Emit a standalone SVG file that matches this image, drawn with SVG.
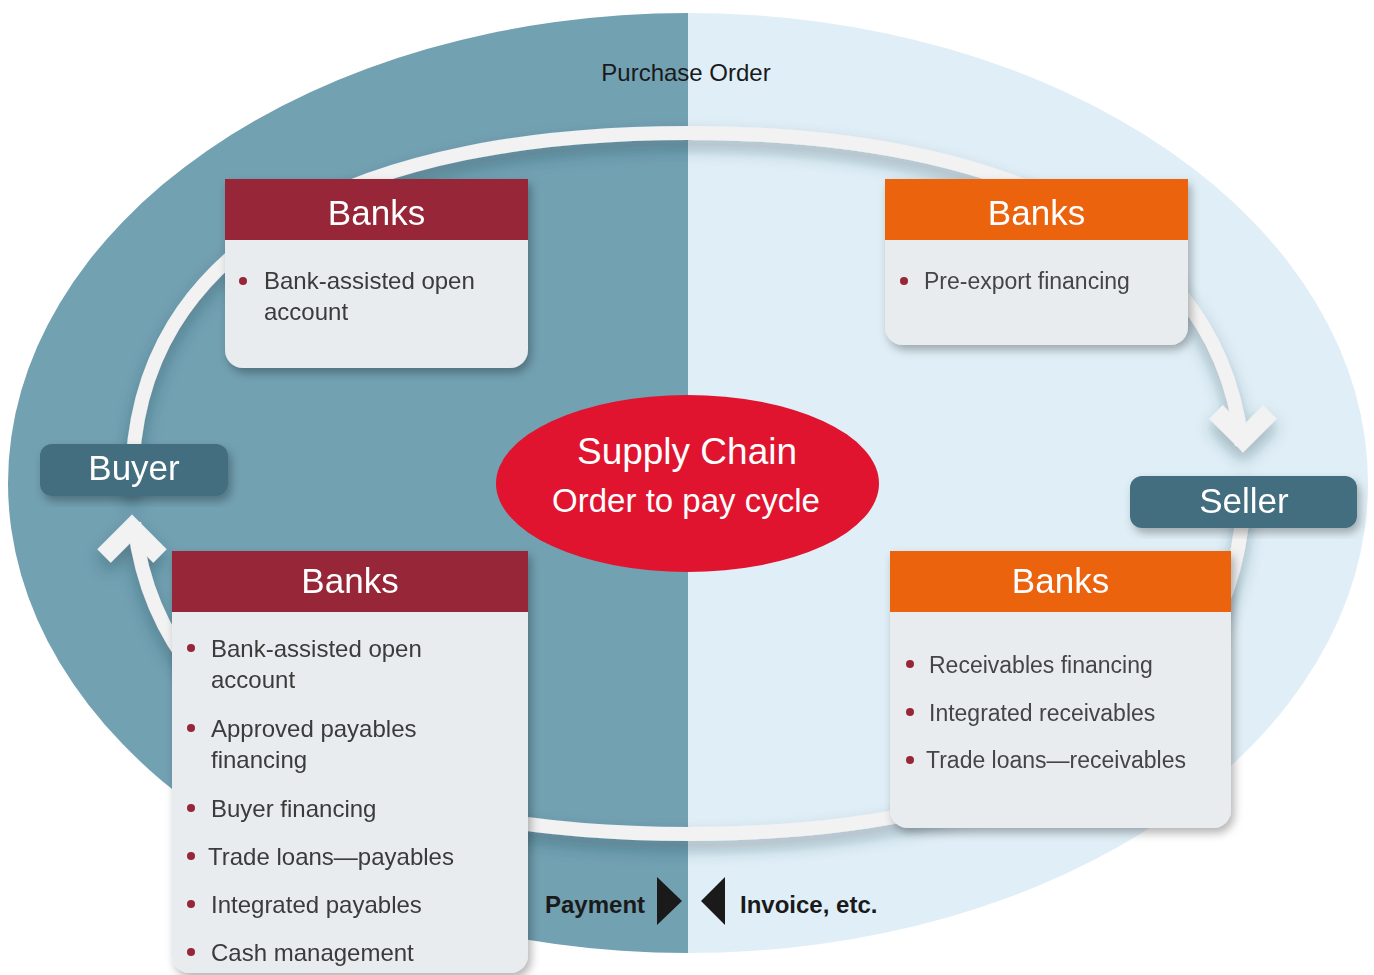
<svg xmlns="http://www.w3.org/2000/svg" width="1374" height="975" viewBox="0 0 1374 975">
<defs>
<style>
.t{font-family:"Liberation Sans",Arial,Helvetica,sans-serif}
.hd{font-size:35px;fill:#ffffff;text-anchor:middle}
.it{font-size:24px;fill:#3a3a3a}
.itr{font-size:23px;fill:#444444}
.dot{fill:#962537}
.body{fill:#e8ecef}
.red{fill:#962537}
.org{fill:#ec6311}
.party{fill:#436e7f}
.ptxt{font-size:35px;fill:#ffffff;text-anchor:middle}
.ring{fill:none;stroke:#f2f2f2;stroke-width:14}
.ah{fill:none;stroke:#f2f2f2;stroke-width:19;stroke-linejoin:miter;stroke-miterlimit:10}
.lbl{font-size:24px;fill:#1a1a1a}
.tri{fill:#1a1a1a}
</style>
<filter id="sh" x="-20%" y="-20%" width="140%" height="140%">
<feDropShadow dx="3" dy="5" stdDeviation="5" flood-color="#000" flood-opacity="0.3"/>
</filter>
<filter id="rsh" x="-10%" y="-10%" width="120%" height="130%">
<feDropShadow dx="0" dy="9" stdDeviation="8" flood-color="#1d3a48" flood-opacity="0.35"/>
</filter>
<mask id="gap">
<rect x="0" y="0" width="1374" height="975" fill="#fff"/>
<rect x="95" y="496" width="80" height="26" fill="#000"/>
<rect x="1205" y="446" width="80" height="30" fill="#000"/>
</mask>
<clipPath id="lh"><rect x="0" y="0" width="688" height="975"/></clipPath>
<clipPath id="rh"><rect x="688" y="0" width="686" height="975"/></clipPath>
</defs>

<g id="background">
<ellipse cx="688" cy="483" rx="680" ry="470" fill="#72a1b2" clip-path="url(#lh)"/>
<ellipse cx="688" cy="483" rx="680" ry="470" fill="#e0eff7" clip-path="url(#rh)"/>
</g>

<g id="connectors">
<g filter="url(#rsh)">
<path class="ring" mask="url(#gap)" d="M688,133 C365.5,133 132,238.1 132,483.5 C132,728.9 365.5,834 688,834 C1010.5,834 1244,728.9 1244,483.5 C1244,238.1 1010.5,133 688,133 Z"/>
<polyline class="ah" points="1216,412 1243,439 1270,412"/>
<polyline class="ah" points="104,556 132,528 160,556"/>
</g>
<polygon class="tri" points="657,877 657,925 682,901"/>
<polygon class="tri" points="725,877 725,925 701,901"/>
</g>

<g id="label-purchase-order">
<text class="t lbl" x="686" y="81" text-anchor="middle">Purchase Order</text>
</g>
<g id="label-payment">
<text class="t lbl" x="545" y="913" font-weight="bold">Payment</text>
</g>
<g id="label-invoice">
<text class="t lbl" x="740" y="913" font-weight="bold" font-size="23">Invoice, etc.</text>
</g>

<g id="supply-chain">
<ellipse cx="687.5" cy="483.5" rx="191.5" ry="88.5" fill="#e0142f"/>
<text class="t" x="687" y="464" font-size="37" fill="#fff" text-anchor="middle">Supply Chain</text>
<text class="t" x="686" y="512" font-size="33" fill="#fff" text-anchor="middle">Order to pay cycle</text>
</g>

<g id="banks-buyer-top" filter="url(#sh)">
<path class="body" d="M225,179 H528 V350 A18,18 0 0 1 510,368 H243 A18,18 0 0 1 225,350 Z"/>
<rect class="red" x="225" y="179" width="303" height="61"/>
<text class="t hd" x="376.5" y="225">Banks</text>
<circle class="dot" cx="243" cy="281" r="4"/>
<text class="t it" x="264" y="289">Bank-assisted open</text>
<text class="t it" x="264" y="320">account</text>
</g>

<g id="banks-seller-top" filter="url(#sh)">
<path class="body" d="M885,179 H1188 V327 A18,18 0 0 1 1170,345 H903 A18,18 0 0 1 885,327 Z"/>
<rect class="org" x="885" y="179" width="303" height="61"/>
<text class="t hd" x="1036.5" y="225">Banks</text>
<circle class="dot" cx="904" cy="281" r="4"/>
<text class="t itr" x="924" y="289">Pre-export financing</text>
</g>

<g id="banks-buyer-bottom" filter="url(#sh)">
<path class="body" d="M172,551 H528 V955 A18,18 0 0 1 510,973 H190 A18,18 0 0 1 172,955 Z"/>
<rect class="red" x="172" y="551" width="356" height="61"/>
<text class="t hd" x="350" y="593">Banks</text>
<circle class="dot" cx="191" cy="648" r="4"/>
<text class="t it" x="211" y="657">Bank-assisted open</text>
<text class="t it" x="211" y="688">account</text>
<circle class="dot" cx="191" cy="728" r="4"/>
<text class="t it" x="211" y="737">Approved payables</text>
<text class="t it" x="211" y="768">financing</text>
<circle class="dot" cx="191" cy="808" r="4"/>
<text class="t it" x="211" y="817">Buyer financing</text>
<circle class="dot" cx="191" cy="856" r="4"/>
<text class="t it" x="208" y="865">Trade loans—payables</text>
<circle class="dot" cx="191" cy="904" r="4"/>
<text class="t it" x="211" y="913">Integrated payables</text>
<circle class="dot" cx="191" cy="952" r="4"/>
<text class="t it" x="211" y="961">Cash management</text>
</g>

<g id="banks-seller-bottom" filter="url(#sh)">
<path class="body" d="M890,551 H1231 V810 A18,18 0 0 1 1213,828 H908 A18,18 0 0 1 890,810 Z"/>
<rect class="org" x="890" y="551" width="341" height="61"/>
<text class="t hd" x="1060.5" y="593">Banks</text>
<circle class="dot" cx="910" cy="664" r="4"/>
<text class="t itr" x="929" y="673">Receivables financing</text>
<circle class="dot" cx="910" cy="712" r="4"/>
<text class="t itr" x="929" y="721">Integrated receivables</text>
<circle class="dot" cx="910" cy="760" r="4"/>
<text class="t itr" x="926" y="768">Trade loans—receivables</text>
</g>

<g id="buyer" filter="url(#sh)">
<rect class="party" x="40" y="444" width="188" height="52" rx="12"/>
<text class="t ptxt" x="134" y="480">Buyer</text>
</g>

<g id="seller" filter="url(#sh)">
<rect class="party" x="1130" y="476" width="227" height="52" rx="12"/>
<text class="t ptxt" x="1244" y="513">Seller</text>
</g>
</svg>
